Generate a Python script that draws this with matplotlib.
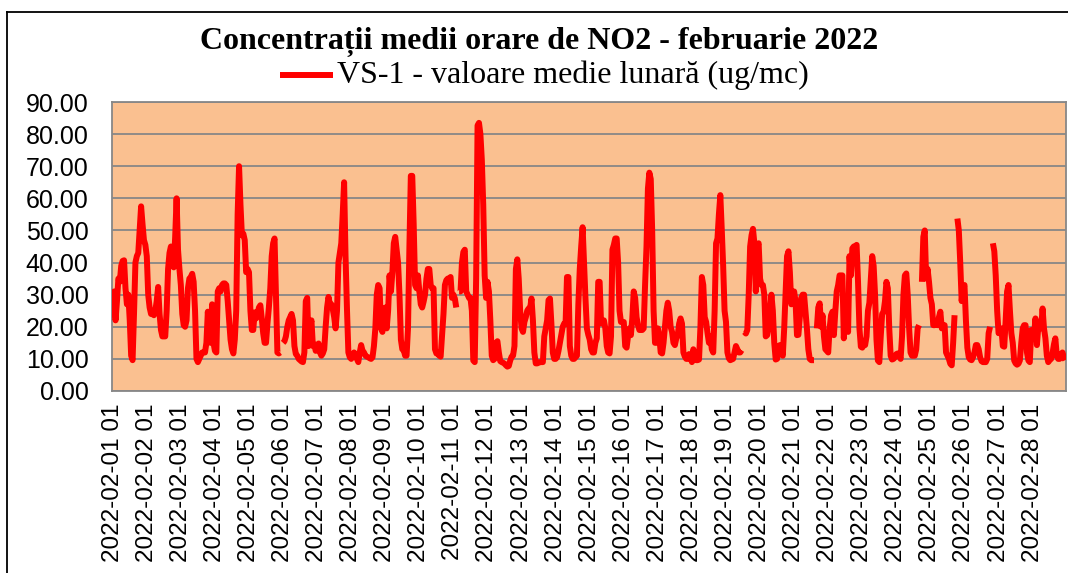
import numpy as np
import matplotlib
matplotlib.use("Agg")
import matplotlib.pyplot as plt
from matplotlib.lines import Line2D

nan = float("nan")

title = "Concentrații medii orare de NO2 - februarie 2022"
series_name = "VS-1 - valoare medie lunară (ug/mc)"
days = list(range(1, 29))
day_labels = [f"2022-02-{d:02d} 01" for d in days]
y_ticks = [0, 10, 20, 30, 40, 50, 60, 70, 80, 90]

# hourly NO2 values (ug/mc), one list per day
d01 = [23, 31, 22, 28, 35, 34, 39, 40.5, 40.7, 32, 27, 30, 22, 11, 9.6, 24, 40, 42, 43, 50, 57.5, 52, 47, 45.5]
d02 = [42, 30, 26, 24, 24, 23.6, 25, 28, 32.4, 24, 19, 17, 17, 17, 25, 38, 43, 45, 40, 38.5, 48, 60, 44, 38]
d03 = [33, 24, 20.5, 20, 22, 32, 35, 35.5, 36.5, 34, 25, 10, 9, 10, 11, 12, 12, 12, 15, 24.7, 18, 15, 27, 15]
d04 = [12.5, 12, 31, 32, 31, 33, 33.5, 33.5, 33, 28, 22, 16, 13, 11.7, 16, 25, 55, 70, 58, 48.5, 49, 47, 37, 38]
d05 = [37, 25, 19, 19, 24.5, 22.6, 24, 26, 26.7, 22.6, 18, 15, 15, 21, 26, 32, 42, 46, 47.5, 30, 12, 11.7, 12, nan]
d06 = [15, 15.5, 17, 20, 22, 23, 24, 22, 14, 11.5, 11, 10, 9.6, 9.2, 9, 12, 28, 29, 14, 20, 22, 14, 14.5, 12.5]
d07 = [13, 14.8, 12, 11, 11.7, 13, 20, 26, 29.3, 27, 27, 25.5, 23, 19.5, 25, 40, 43, 46, 55, 65, 42, 25.7, 12, 10.5]
d08 = [10, 11, 12, 11, 10, 9, 12, 14.3, 12.5, 12, 11, 10.7, 10.5, 10.2, 10, 10.5, 14, 19.5, 30, 33, 32, 19.5, 18.4, 25]
d09 = [26, 19.5, 25, 36, 31, 37, 46, 48, 44, 40, 30, 16, 13, 12.7, 11, 11, 19.5, 45, 67, 67, 52, 33, 32, 36]
d10 = [31, 27, 26, 27.8, 30, 35, 38, 38, 33, 32, 32, 13, 11.7, 11.7, 11, 10.7, 17.4, 24, 33, 34.5, 35, 35, 35.5, 29]
d11 = [30, 28.8, 26, nan, 31, 31, 40, 43.3, 44, 31, 30, 29, 29, 25, 9.5, 9, 35, 82.7, 83.5, 80, 72, 58, 36, 29]
d12 = [34, 31, 22, 11, 9.6, 10, 15, 15.5, 12, 9.3, 9, 8.8, 8.5, 8, 7.6, 7.8, 9.5, 10.7, 11, 14, 38, 41, 35, 25]
d13 = [19.5, 18.4, 21.5, 23, 25, 25.7, 25.7, 28.8, 22, 12, 8.6, 8.6, 8.8, 9, 9, 9, 17, 19.5, 22, 28.3, 28.8, 21, 12, 10]
d14 = [10, 10.5, 12.5, 15, 17.4, 20, 21, 21, 35.5, 35.5, 14, 11, 10, 10, 10.5, 11, 27, 38, 45, 51, 40, 29, 19.5, 17.5]
d15 = [16, 13, 12, 12, 15, 16.4, 34, 34, 21, 22, 22, 19.5, 14, 12, 11.7, 17, 44, 45.5, 47.5, 47.5, 40, 25, 21.5, 21.5]
d16 = [21.5, 14, 13.5, 17, 19.5, 17.4, 22.6, 31, 29, 23, 20.5, 19, 19, 19, 19.5, 33, 45, 63, 68, 66, 50, 25, 15, 15]
d17 = [19.5, 17, 12, 11.7, 15, 20, 25, 27.5, 25, 20, 18.4, 15, 14.3, 16.4, 17.4, 21, 22.6, 21, 12, 10.7, 10, 10, 11.5, 11]
d18 = [9, 13, 10.7, 9.6, 9.6, 9.8, 20, 35.5, 33, 23, 21.5, 18, 15, 17, 13, 12, 25, 46, 47.5, 55, 61, 50.5, 39, 25]
d19 = [21.5, 12, 10.2, 9.6, 9.8, 10, 12, 14, 13, 12, 12, 12.7, nan, 18.4, 17.9, 19, 30, 45, 48.5, 50.5, 46, 31, 45, 46]
d20 = [35, 33, 33, 30, 17, 17.4, 20, 25, 30, 25, 15, 9.8, 10, 14, 14.3, 13, 11, 19.5, 31, 42, 43.5, 37, 27, 29]
d21 = [31, 27.8, 17.4, 17.5, 23, 29, 30, 30, 24.7, 19.5, 13, 10, 9.6, 9.6, 9.6, nan, 19.5, 26, 27.3, 20, 23.6, 17, 13, 12.5]
d22 = [12, 19.5, 23.6, 24.7, 17.4, 24.7, 31, 33, 36, 36, 36, 16.4, 25.7, 25.7, 18.4, 42, 36, 44.4, 45, 45, 45.5, 34, 19.5, 13.8]
d23 = [13.5, 14.3, 14.3, 17, 25, 27.5, 35, 42, 39, 30, 16, 9.5, 9, 17, 24, 24.7, 28, 34, 32, 19.5, 11, 9.8, 10, 10.5]
d24 = [11.5, 11.7, 11, 10, 17, 30, 36, 36.6, 30, 19.5, 12, 11, 11, 11, 13, 19.5, 20.5, nan, 34, 48, 50, 35, 38, 34]
d25 = [29, 27, 20.5, 20.5, 21.5, 20.5, 23, 24.7, 19.5, 20.5, 20.5, 12, 11, 10, 8.5, 8, 15, 23.6, nan, 53.7, 50, 40, 28, 32]
d26 = [33, 22, 13.5, 10.5, 9.8, 9.6, 10.5, 12, 14.3, 14.3, 13, 10.5, 9.3, 9, 9, 9, 10, 18, 20, nan, 46, 43.5, 36, 25]
d27 = [18, 18.4, 19.5, 14, 13.8, 22, 31, 33, 25, 18, 15, 9.5, 8.6, 8.2, 8.5, 9.5, 15, 19.5, 20.5, 20.5, 12, 9.5, 9, 19]
d28 = [18.4, 17.4, 22.6, 14.3, 20, 21, 19.5, 25.7, 19.5, 16.4, 11, 9, 9.6, 10, 11.7, 14.5, 16.4, 11, 10, 10, 11.5, 12, 10.5, 9.6]

values = np.array(d01 + d02 + d03 + d04 + d05 + d06 + d07 + d08 + d09 + d10 + d11 + d12 + d13 + d14
                  + d15 + d16 + d17 + d18 + d19 + d20 + d21 + d22 + d23 + d24 + d25 + d26 + d27 + d28,
                  dtype=float)
hours = np.arange(len(values))

W, H = 1068, 573
fig = plt.figure(figsize=(W / 100, H / 100), dpi=100)
fig.patch.set_facecolor("white")

# chart-area border (cropped on right/bottom)
fig.add_artist(Line2D([7 / W, 7 / W], [-0.1, 1 - 12 / H], transform=fig.transFigure, color="black", lw=1.3))
fig.add_artist(Line2D([7 / W, 1.1], [1 - 12 / H, 1 - 12 / H], transform=fig.transFigure, color="black", lw=1.3))

left, right, top, bottom = 112, 1066, 102, 391
ax = fig.add_axes([left / W, (H - bottom) / H, (right - left) / W, (bottom - top) / H])
ax.set_facecolor("#FAC090")

ax.plot(hours, values, color="#FF0000", lw=4.3, solid_capstyle="butt", solid_joinstyle="round", zorder=3)

ax.set_xlim(-0.5, len(values) - 0.5)
ax.set_ylim(0, 90)
ax.set_yticks(y_ticks)
ax.set_yticklabels([f"{v:.2f}" for v in y_ticks], fontfamily="Liberation Sans", fontsize=18)
ax.set_xticks(hours[::24])
ax.set_xticklabels(day_labels, rotation=90, fontfamily="Liberation Sans", fontsize=17.5, va="top", ha="center")
ax.tick_params(axis="y", length=0, pad=17)
ax.tick_params(axis="x", length=0, pad=9)
ax.grid(axis="y", color="#878787", lw=1.3, zorder=1)
ax.set_axisbelow(True)
for s in ax.spines.values():
    s.set_color("#878787")
    s.set_linewidth(1.3)

fig.text(539 / W, 1 - 42 / H, title, ha="center", va="center",
         fontfamily="Liberation Serif", fontweight="bold", fontsize=23)
fig.add_artist(Line2D([280 / W, 333 / W], [1 - 75 / H, 1 - 75 / H], transform=fig.transFigure,
                      color="#FF0000", lw=4.3, solid_capstyle="butt"))
fig.text(337 / W, 1 - 75 / H, series_name, ha="left", va="center",
         fontfamily="Liberation Serif", fontsize=23)

fig.savefig("out.png", dpi=100)
